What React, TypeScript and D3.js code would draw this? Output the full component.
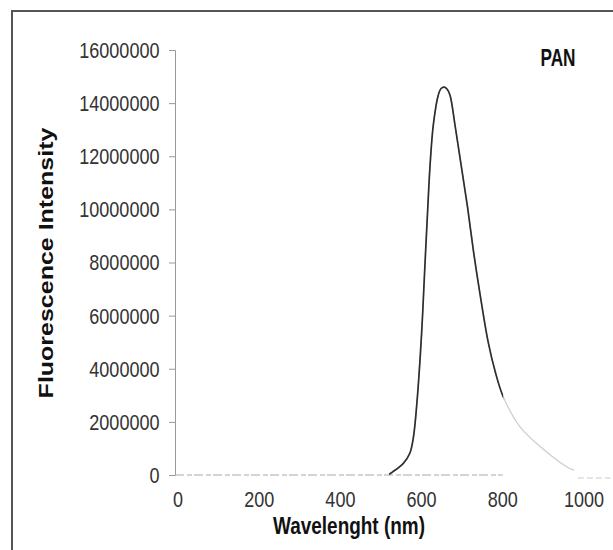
import { useEffect, useRef } from "react"
import * as d3 from "d3"

// emission spectrum (nm, intensity)
const wavelengths = [520, 529, 555, 571, 580, 589, 600, 608, 616, 621, 629, 641, 648, 656, 663, 670, 682, 697, 713, 728, 744, 764, 782, 801, 842, 892, 957, 975]
const intensities = [
  30000, 120000, 440000, 820000, 1440000, 2820000, 5330000, 7840000, 10300000, 11700000,
  13200000, 14300000, 14550000, 14600000, 14520000, 14300000, 13200000, 11700000, 10100000,
  8400000, 6800000, 5000000, 3850000, 2950000, 1820000, 1070000, 310000, 180000,
]
const xTicks = [0, 200, 400, 600, 800, 1000]
const yTicks = [0, 2000000, 4000000, 6000000, 8000000, 10000000, 12000000, 14000000, 16000000]
const seriesName = "PAN"
const xTitle = "Wavelenght (nm)"
const yTitle = "Fluorescence Intensity"

const W = 613
const H = 550

const App = () => {
  const ref = useRef<SVGSVGElement>(null)

  useEffect(() => {
    const svg = d3.select(ref.current)
    svg.selectAll("*").remove()

    const x = d3.scaleLinear().domain([0, 1000]).range([178, 584])
    const y = d3.scaleLinear().domain([0, 16000000]).range([475, 50])
    const data = wavelengths.map((w, i) => ({ w, v: intensities[i] }))

    svg.append("rect").attr("width", W).attr("height", H).attr("fill", "#fff")

    // scanned frame (top + left edges)
    svg
      .append("path")
      .attr("d", `M12,${H} L12,11 L${W},11`)
      .attr("fill", "none")
      .attr("stroke", "#555")
      .attr("stroke-width", 2)

    // y axis
    const yAxis = svg
      .append("g")
      .attr("transform", "translate(175,0)")
      .call(d3.axisLeft(y).tickValues(yTicks).tickSize(6).tickFormat(() => ""))
    yAxis.select(".domain").attr("stroke", "#999").attr("stroke-width", 1)
    yAxis.selectAll(".tick line").attr("stroke", "#999")

    yTicks.forEach((t) => {
      svg
        .append("text")
        .attr("transform", `translate(159.5,${y(t)}) scale(0.82,1)`)
        .attr("dy", "0.36em")
        .attr("text-anchor", "end")
        .attr("font-family", "Liberation Sans, Arial, sans-serif")
        .attr("font-size", 22)
        .attr("fill", "#333")
        .text(String(t))
    })

    // x axis, faint dashed as on the scan
    svg
      .append("line")
      .attr("x1", x(0) - 3)
      .attr("x2", x(800))
      .attr("y1", y(0))
      .attr("y2", y(0))
      .attr("stroke", "#aaa")
      .attr("stroke-width", 1.2)
      .attr("stroke-dasharray", "9 3 5 2")
    svg
      .append("line")
      .attr("x1", x(985))
      .attr("x2", x(1065))
      .attr("y1", y(0) + 3)
      .attr("y2", y(0) + 3)
      .attr("stroke", "#ccc")
      .attr("stroke-width", 1.2)
      .attr("stroke-dasharray", "6 3")

    xTicks.forEach((t) => {
      svg
        .append("text")
        .attr("transform", `translate(${x(t)},507) scale(0.82,1)`)
        .attr("text-anchor", "middle")
        .attr("font-family", "Liberation Sans, Arial, sans-serif")
        .attr("font-size", 22)
        .attr("fill", "#333")
        .text(String(t))
    })

    // titles
    svg
      .append("text")
      .attr("transform", `translate(349,534) scale(0.79,1)`)
      .attr("text-anchor", "middle")
      .attr("font-family", "Liberation Sans, Arial, sans-serif")
      .attr("font-weight", "bold")
      .attr("font-size", 24)
      .attr("fill", "#111")
      .text(xTitle)

    svg
      .append("text")
      .attr("transform", `translate(53,263) rotate(-90) scale(1,0.78)`)
      .attr("text-anchor", "middle")
      .attr("font-family", "Liberation Sans, Arial, sans-serif")
      .attr("font-weight", "bold")
      .attr("font-size", 25)
      .attr("fill", "#111")
      .text(yTitle)

    svg
      .append("text")
      .attr("transform", `translate(558,66) scale(0.75,1)`)
      .attr("text-anchor", "middle")
      .attr("font-family", "Liberation Sans, Arial, sans-serif")
      .attr("font-weight", "bold")
      .attr("font-size", 23)
      .attr("fill", "#111")
      .text(seriesName)

    // spectrum: faded tail under, dark part clipped to <= 801 nm
    const line = d3
      .line<{ w: number; v: number }>()
      .x((d) => x(d.w))
      .y((d) => y(d.v))
      .curve(d3.curveCatmullRom.alpha(0.5))

    svg
      .append("path")
      .datum(data)
      .attr("d", line)
      .attr("fill", "none")
      .attr("stroke", "#cfcfcf")
      .attr("stroke-width", 1.3)

    svg
      .append("clipPath")
      .attr("id", "dark-part")
      .append("rect")
      .attr("x", 0)
      .attr("y", 0)
      .attr("width", x(801))
      .attr("height", H)

    svg
      .append("path")
      .datum(data)
      .attr("d", line)
      .attr("fill", "none")
      .attr("stroke", "#2e2e2e")
      .attr("stroke-width", 1.7)
      .attr("clip-path", "url(#dark-part)")
  }, [])

  return (
    <div style={{ position: "absolute", left: 0, top: 0 }}>
      <svg ref={ref} width={W} height={H} style={{ display: "block" }} />
    </div>
  )
}

export default App
